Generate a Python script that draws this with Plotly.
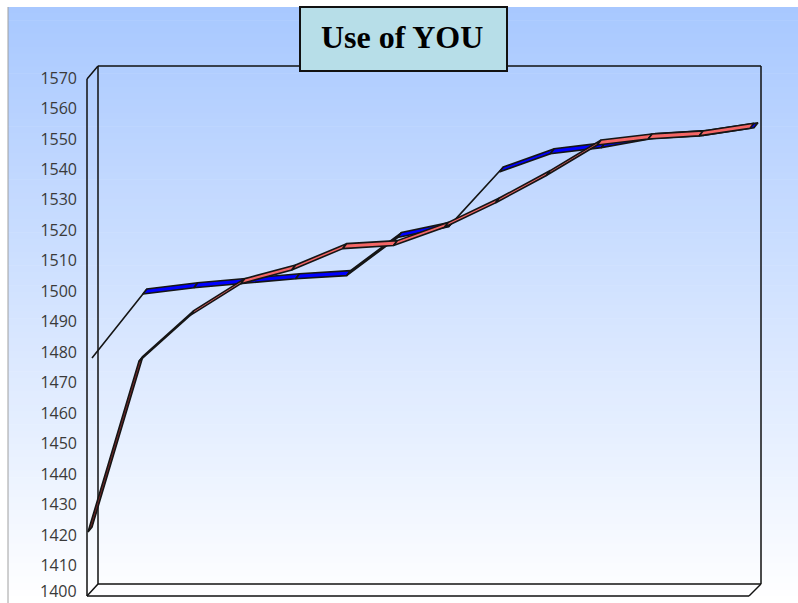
import plotly.graph_objects as go

# ---------------- data ----------------
points = list(range(1, 15))  # 14 unlabeled categories
red_values = [1421, 1477, 1492, 1502.5, 1507, 1514, 1515, 1521, 1529, 1538, 1548, 1550, 1551, 1553.5]
blue_values = [1476.5, 1497.5, 1499.5, 1501, 1502.5, 1503.5, 1516, 1519.5, 1537.5, 1543.5, 1545.5, 1548.5, 1549.5, 1552]
y_ticks = list(range(1400, 1571, 10))
title_text = "Use of YOU"

# ---------------- layout constants ----------------
W, H = 798, 603
L, R, T, B = 87, 33, 60, 3
PW, PH = W - L - R, H - T - B
X0, X1 = -0.0196, 13.295
Y0, Y1 = 1398.687, 1575.91
xpx = (X1 - X0) / PW   # data units per pixel
ypx = (Y1 - Y0) / PH

def pxx(px):
    return (px - L) / PW

def pxy(py):
    return (H - B - py) / PH

DEPTH_X, DEPTH_Y = 4, 5   # ribbon depth in pixels (right, up)
ROW_X, ROW_Y = 4, 5       # blue row sits behind red row

fig = go.Figure()

def add_ribbon(values, row_dx, row_dy, top_color, bottom_color):
    xs = [i + row_dx * xpx for i in range(len(values))]
    ys = [v + row_dy * ypx for v in values]
    dx, dy = DEPTH_X * xpx, DEPTH_Y * ypx
    for i in range(len(values) - 1):
        slope = ((ys[i + 1] - ys[i]) / ypx) / ((xs[i + 1] - xs[i]) / xpx)
        color = top_color if DEPTH_Y - DEPTH_X * slope > 0 else bottom_color
        px_ = [xs[i], xs[i + 1], xs[i + 1] + dx, xs[i] + dx, xs[i]]
        py_ = [ys[i], ys[i + 1], ys[i + 1] + dy, ys[i] + dy, ys[i]]
        fig.add_trace(go.Scatter(
            x=px_, y=py_, mode="lines", fill="toself", fillcolor=color,
            line=dict(color="#151515", width=1.6), hoverinfo="skip", showlegend=False,
        ))

add_ribbon(blue_values, ROW_X, ROW_Y, "#0000FF", "#00006E")
add_ribbon(red_values, 0, 0, "#F46666", "#7A2828")

shapes = []
# gradient background bands
top_c = (168, 200, 255)
bot_c = (255, 255, 255)
g_top, g_bot = 7, 603
n = 90
for k in range(n):
    y_a = g_top + (g_bot - g_top) * k / n
    y_b = min(g_bot, g_top + (g_bot - g_top) * (k + 1) / n + 0.6)
    f = (k + 0.5) / n
    c = tuple(round(top_c[j] + (bot_c[j] - top_c[j]) * f) for j in range(3))
    shapes.append(dict(type="rect", xref="paper", yref="paper", layer="below",
                       x0=pxx(8), x1=pxx(W), y0=pxy(y_b), y1=pxy(y_a),
                       fillcolor="rgb(%d,%d,%d)" % c, line=dict(width=0)))
# left border line of chart area
shapes.append(dict(type="line", xref="paper", yref="paper", layer="below",
                   x0=pxx(8), x1=pxx(8), y0=pxy(7), y1=pxy(H),
                   line=dict(color="#A0A0A0", width=1)))

# 3D frame
frame_lines = [
    ((98, 66), (761, 66)),
    ((761, 66), (761, 584)),
    ((98, 66), (98, 584)),
    ((98, 584), (761, 584)),
    ((87, 79), (98, 66)),
    ((87, 79), (87, 596)),
    ((87, 596), (749, 596)),
    ((87, 596), (98, 584)),
    ((749, 596), (761, 584)),
]
for (a, b) in frame_lines:
    shapes.append(dict(type="line", xref="paper", yref="paper", layer="below",
                       x0=pxx(a[0]), y0=pxy(a[1]), x1=pxx(b[0]), y1=pxy(b[1]),
                       line=dict(color="#111111", width=1.5)))

# title box
shapes.append(dict(type="rect", xref="paper", yref="paper", layer="above",
                   x0=pxx(300), x1=pxx(507), y0=pxy(71), y1=pxy(7),
                   fillcolor="#B7DEE8", line=dict(color="#111111", width=2)))

tick_font = dict(family="Open Sans", size=16, color="#3A3A3A")

annotations = [dict(text=title_text, xref="paper", yref="paper",
                    x=pxx(402), y=pxy(37), xanchor="center", yanchor="middle",
                    showarrow=False,
                    font=dict(family="Liberation Serif", size=32, color="black", weight=700))]
# lowest tick label sits at the very bottom edge; keep its box inside the page
annotations.append(dict(text=str(y_ticks[0]), xref="paper", yref="paper",
                        x=pxx(L - 9), y=pxy(H), xanchor="right", yanchor="bottom",
                        showarrow=False, borderpad=0, font=tick_font))

fig.update_layout(
    width=W, height=H,
    margin=dict(l=L, r=R, t=T, b=B),
    paper_bgcolor="white",
    plot_bgcolor="rgba(0,0,0,0)",
    shapes=shapes,
    showlegend=False,
    xaxis=dict(range=[X0, X1], visible=False, fixedrange=True),
    yaxis=dict(range=[Y0, Y1], tickmode="array", tickvals=y_ticks[1:],
               ticktext=[str(v) for v in y_ticks[1:]], showgrid=False, zeroline=False,
               showline=False, ticks="", ticklabelstandoff=9,
               tickfont=tick_font, fixedrange=True),
    annotations=annotations,
)

fig.write_html("out.html")
